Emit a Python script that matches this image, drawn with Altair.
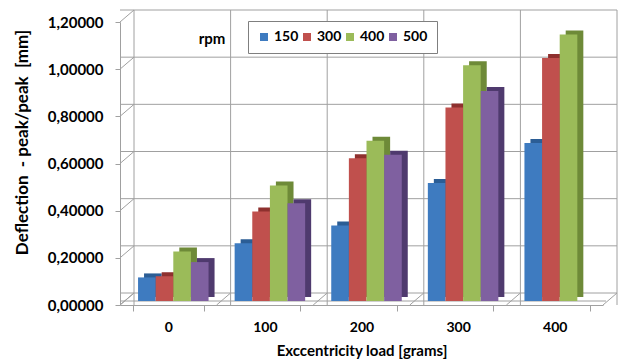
import altair as alt
import pandas as pd

loads = ["0", "100", "200", "300", "400"]
rpms = ["150", "300", "400", "500"]
v150 = [0.10, 0.245, 0.32, 0.50, 0.67]
v300 = [0.105, 0.38, 0.605, 0.82, 1.03]
v400 = [0.21, 0.49, 0.68, 1.00, 1.13]
v500 = [0.165, 0.415, 0.62, 0.89, None]
y_ticks = [0, 0.2, 0.4, 0.6, 0.8, 1.0, 1.2]
front_colors = ["#3E7BC0", "#C0504D", "#9BBB59", "#7F60A0"]
side_colors = ["#2B5D95", "#8E302E", "#6E8A38", "#4F3A6E"]

rows = []
for rpm, vals in zip(rpms, [v150, v300, v400, v500]):
    for load, v in zip(loads, vals):
        if v is not None:
            rows.append({"load": load, "rpm": rpm, "value": v})
df = pd.DataFrame(rows)
df_ticks = pd.DataFrame({"tick": y_ticks})
df_loads = pd.DataFrame({"load": loads})

F = "Lato"
GRID = "#A0A0A0"
W, H = 483, 283
DX, DY = 14, 12          # depth of the back wall
XPAD = dict(paddingInner=0.27, paddingOuter=0.135)
NB = "\u00a0"
YS = dict(domain=[0, 1.2], nice=False)
EDGE = alt.Scale(paddingInner=0, paddingOuter=0)

xo = alt.XOffset("rpm:N", sort=rpms, scale=alt.Scale(paddingInner=0, paddingOuter=0))

# back wall horizontal grid
hgrid = alt.Chart(df_ticks).mark_rule(color=GRID, xOffset=DX, x2Offset=DX, yOffset=-DY).encode(
    y=alt.Y("tick:Q", scale=alt.Scale(**YS), axis=None))
# floor top edge (bars stand on it)
floor_top = alt.Chart(df_ticks).transform_filter(alt.datum.tick == 0).mark_rule(
    color=GRID, xOffset=3, x2Offset=3, yOffset=-4).encode(
    y=alt.Y("tick:Q", scale=alt.Scale(**YS), axis=None))
# left wall diagonals
lwall = alt.Chart(df_ticks).mark_rule(color=GRID, y2Offset=-DY).encode(
    x=alt.value(0), x2=alt.value(DX),
    y=alt.Y("tick:Q", scale=alt.Scale(**YS), axis=None), y2=alt.Y2("tick"))
# back wall vertical grid (band edges)
vgrid = alt.Chart(df_loads).mark_rule(color=GRID, xOffset=DX, yOffset=-DY, y2Offset=-DY).encode(
    x=alt.X("load:N", sort=loads, bandPosition=0, scale=EDGE, axis=None))
vgrid_end = alt.Chart(df_loads).transform_filter(alt.datum.load == loads[-1]).mark_rule(
    color=GRID, xOffset=DX, yOffset=-DY, y2Offset=-DY).encode(
    x=alt.X("load:N", sort=loads, bandPosition=1, scale=EDGE, axis=None))
# floor diagonals
floor = alt.Chart(df_loads).mark_rule(color=GRID, x2Offset=DX).encode(
    x=alt.X("load:N", sort=loads, bandPosition=0, scale=EDGE, axis=None),
    x2=alt.X2("load", bandPosition=0),
    y=alt.value(H), y2=alt.value(H - DY))
floor_end = alt.Chart(df_loads).transform_filter(alt.datum.load == loads[-1]).mark_rule(
    color=GRID, x2Offset=DX).encode(
    x=alt.X("load:N", sort=loads, bandPosition=1, scale=EDGE, axis=None),
    x2=alt.X2("load", bandPosition=1),
    y=alt.value(H), y2=alt.value(H - DY))

# front axes (invisible marks)
axes = alt.Chart(df).mark_bar(opacity=0).encode(
    x=alt.X("load:N", sort=loads, title="Exccentricity load [grams]", scale=alt.Scale(**XPAD),
            axis=alt.Axis(orient="bottom", labelAngle=0, tickBand="extent", grid=False,
                          domainColor=GRID, tickColor=GRID, tickSize=6, labelPadding=9,
                          labelFont=F, labelFontSize=14, labelFontWeight="bold",
                          labelColor="black", titleFont=F, titleFontSize=15,
                          titleFontWeight="bold", titleColor="black", titlePadding=9)),
    xOffset=xo,
    y=alt.Y("value:Q", title=f"Deflection{NB} - peak/peak{NB} [mm]", scale=alt.Scale(**YS),
            axis=alt.Axis(orient="left", values=y_ticks,
                          labelExpr="replace(format(datum.value, '.5f'), '.', ',')",
                          grid=False, domainColor=GRID, tickColor=GRID, tickSize=5,
                          labelPadding=12, labelFont=F, labelFontSize=15,
                          labelFontWeight="bold", labelColor="black", titleFont=F,
                          titleFontSize=17, titleFontWeight="bold", titleColor="black",
                          titleX=-98, titleY=120, titleAngle=-90, titleAlign="center",
                          titleBaseline="middle")),
)

shadow = alt.Chart(df).mark_bar(yOffset=-8, y2Offset=-8).encode(
    x=alt.X("load:N", sort=loads, scale=alt.Scale(range=[11, W + 11], **XPAD), axis=None),
    xOffset=xo,
    y=alt.Y("value:Q", scale=alt.Scale(**YS), axis=None),
    color=alt.Color("rpm:N", scale=alt.Scale(domain=rpms, range=side_colors), legend=None),
)

front = alt.Chart(df).mark_bar(yOffset=-4, y2Offset=-4).encode(
    x=alt.X("load:N", sort=loads, scale=alt.Scale(range=[5, W + 5], **XPAD), axis=None),
    xOffset=xo,
    y=alt.Y("value:Q", scale=alt.Scale(**YS), axis=None),
    color=alt.Color("rpm:N", scale=alt.Scale(domain=rpms, range=front_colors),
                    legend=alt.Legend(orient="none", legendX=128, legendY=-1,
                                      direction="horizontal", title=None,
                                      strokeColor="#7F7F7F", fillColor="white", padding=9,
                                      symbolType="square", symbolSize=64, symbolStrokeWidth=0,
                                      labelFont=F, labelFontSize=14, labelFontWeight="bold",
                                      labelColor="black", columnPadding=1, labelOffset=3)),
)

rpm_label = alt.Chart(pd.DataFrame({"t": ["rpm"]})).mark_text(
    font=F, fontSize=15, fontWeight="bold", color="black", align="center", baseline="middle"
).encode(text="t:N", x=alt.value(92), y=alt.value(17))

chart = alt.layer(hgrid, floor_top, lwall, vgrid, vgrid_end, floor, floor_end, axes, shadow,
                  front, rpm_label).resolve_scale(
    x="independent", y="independent", color="independent"
).resolve_axis(x="independent", y="independent").properties(
    width=W, height=H,
    padding={"left": 120, "top": 22, "right": 17, "bottom": 55},
    autosize=alt.AutoSizeParams(type="none"),
    background="white",
).configure_view(strokeWidth=0)

chart.save("out.html", embed_options={"renderer": "svg", "actions": False})
